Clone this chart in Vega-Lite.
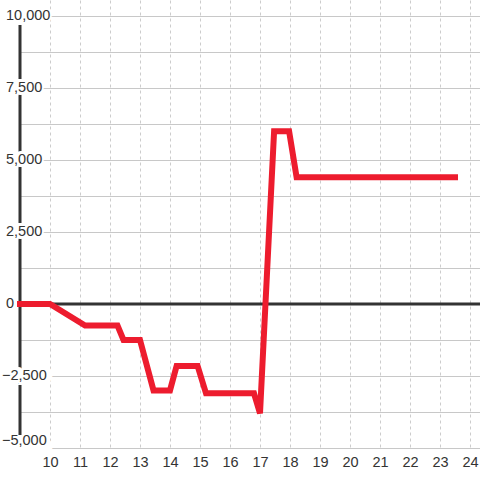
{
  "$schema": "https://vega.github.io/schema/vega-lite/v6.json",
  "width": 460,
  "height": 448,
  "autosize": {"type": "none"},
  "padding": {"left": 20, "top": 0, "right": 0, "bottom": 32},
  "background": "white",
  "config": {
    "view": {"stroke": null},
    "font": "Liberation Sans",
    "axis": {"labelFont": "Liberation Sans", "labelFontSize": 14.5, "labelColor": "#333333"}
  },
  "datasets": {
    "series": [
      {"t": 9, "v": 0},
      {"t": 10, "v": 0},
      {"t": 11.17, "v": -750},
      {"t": 12.25, "v": -750},
      {"t": 12.45, "v": -1250},
      {"t": 13.0, "v": -1250},
      {"t": 13.45, "v": -3000},
      {"t": 14.0, "v": -3000},
      {"t": 14.22, "v": -2150},
      {"t": 14.92, "v": -2150},
      {"t": 15.2, "v": -3100},
      {"t": 16.8, "v": -3100},
      {"t": 17.0, "v": -3800},
      {"t": 17.47, "v": 6000},
      {"t": 17.97, "v": 6000},
      {"t": 18.22, "v": 4400},
      {"t": 23.5, "v": 4400}
    ],
    "ylabels": [
      {"v": -5000}, {"v": -2500}, {"v": 0}, {"v": 2500}, {"v": 5000}, {"v": 7500}, {"v": 10000}
    ],
    "one": [{}]
  },
  "resolve": {"scale": {"x": "shared", "y": "shared"}, "axis": {"x": "independent", "y": "independent"}},
  "layer": [
    {
      "data": {"name": "series"},
      "mark": {"type": "line", "opacity": 0},
      "encoding": {
        "x": {
          "field": "t",
          "type": "quantitative",
          "scale": {"domain": [9, 24.3333], "nice": false, "zero": false},
          "axis": {
            "title": null,
            "values": [10, 11, 12, 13, 14, 15, 16, 17, 18, 19, 20, 21, 22, 23, 24],
            "labelOverlap": false,
            "domain": false,
            "ticks": false,
            "labelPadding": 7,
            "grid": true,
            "gridColor": "#cccccc",
            "gridDash": [3, 3],
            "gridWidth": 1
          }
        },
        "y": {
          "field": "v",
          "type": "quantitative",
          "scale": {"domain": [-5000, 10555], "nice": false, "zero": false},
          "axis": {
            "title": null,
            "values": [-5000, -3750, -2500, -1250, 0, 1250, 2500, 3750, 5000, 6250, 7500, 8750, 10000],
            "labels": false,
            "domain": false,
            "ticks": false,
            "grid": true,
            "gridColor": "#c8c8c8",
            "gridWidth": 1
          }
        }
      }
    },
    {
      "data": {"name": "one"},
      "mark": {"type": "rule", "color": "#333333", "strokeWidth": 3},
      "encoding": {"y": {"datum": 0, "type": "quantitative", "axis": null}}
    },
    {
      "data": {"name": "one"},
      "mark": {"type": "rule", "color": "#333333", "strokeWidth": 3},
      "encoding": {
        "x": {"datum": 9, "type": "quantitative", "axis": null},
        "y": {"datum": -4550, "type": "quantitative", "axis": null},
        "y2": {"datum": 9720}
      }
    },
    {
      "data": {"name": "ylabels"},
      "mark": {"type": "text", "align": "left", "baseline": "middle", "dx": -15, "fontSize": 14.5, "font": "Liberation Sans", "fill": "white", "stroke": "white", "strokeWidth": 6},
      "encoding": {
        "x": {"datum": 9, "type": "quantitative", "axis": null},
        "y": {"field": "v", "type": "quantitative", "axis": null},
        "text": {"field": "v", "type": "quantitative", "format": ","}
      }
    },
    {
      "data": {"name": "series"},
      "mark": {"type": "line", "color": "#ed1c2e", "strokeWidth": 6, "strokeCap": "square", "strokeJoin": "miter"},
      "encoding": {
        "x": {"field": "t", "type": "quantitative", "axis": null},
        "y": {"field": "v", "type": "quantitative", "axis": null}
      }
    },
    {
      "data": {"name": "ylabels"},
      "transform": [{"filter": "datum.v >= 0"}],
      "mark": {"type": "text", "align": "left", "baseline": "middle", "dx": -14, "fontSize": 14.5, "font": "Liberation Sans", "color": "#333333"},
      "encoding": {
        "x": {"datum": 9, "type": "quantitative", "axis": null},
        "y": {"field": "v", "type": "quantitative", "axis": null},
        "text": {"field": "v", "type": "quantitative", "format": ","}
      }
    },
    {
      "data": {"name": "ylabels"},
      "transform": [{"filter": "datum.v === -2500"}],
      "mark": {"type": "text", "align": "left", "baseline": "middle", "dx": -18, "fontSize": 14.5, "font": "Liberation Sans", "color": "#333333"},
      "encoding": {
        "x": {"datum": 9, "type": "quantitative", "axis": null},
        "y": {"field": "v", "type": "quantitative", "axis": null},
        "text": {"field": "v", "type": "quantitative", "format": ","}
      }
    },
    {
      "data": {"name": "ylabels"},
      "transform": [{"filter": "datum.v === -5000"}],
      "mark": {"type": "text", "align": "left", "baseline": "middle", "dx": -18, "dy": -7, "fontSize": 14.5, "font": "Liberation Sans", "color": "#333333"},
      "encoding": {
        "x": {"datum": 9, "type": "quantitative", "axis": null},
        "y": {"field": "v", "type": "quantitative", "axis": null},
        "text": {"field": "v", "type": "quantitative", "format": ","}
      }
    }
  ]
}
